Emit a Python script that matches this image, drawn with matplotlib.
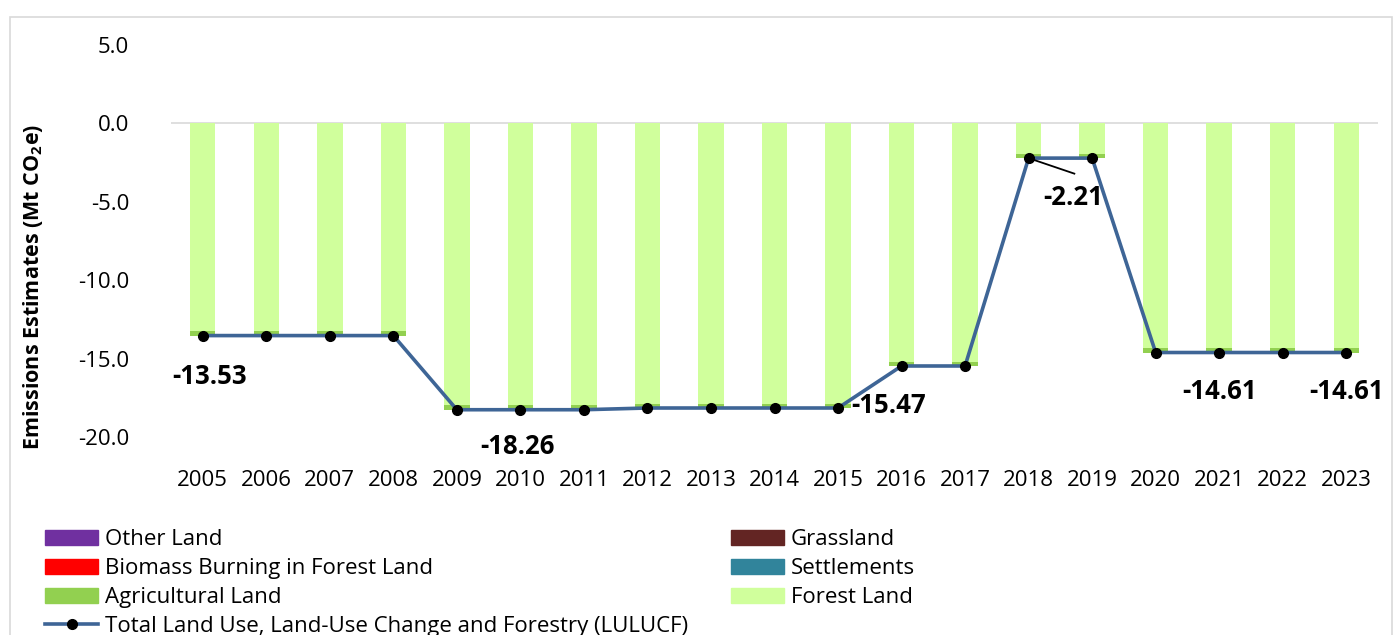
import matplotlib.pyplot as plt
import numpy as np
from matplotlib.patches import Patch, Rectangle
from matplotlib.lines import Line2D

plt.rcParams['font.family'] = ['Open Sans', 'DejaVu Sans']
plt.rcParams['mathtext.default'] = 'regular'

years = ['2005', '2006', '2007', '2008', '2009', '2010', '2011', '2012', '2013', '2014',
         '2015', '2016', '2017', '2018', '2019', '2020', '2021', '2022', '2023']
forest_land = [-13.25, -13.25, -13.25, -13.25, -17.98, -17.98, -17.98, -17.87, -17.87, -17.87,
               -17.87, -15.19, -15.19, -1.93, -1.93, -14.33, -14.33, -14.33, -14.33]
agricultural_land = [-0.28] * 19
total_lulucf = [-13.53, -13.53, -13.53, -13.53, -18.26, -18.26, -18.26, -18.15, -18.15, -18.15,
                -18.15, -15.47, -15.47, -2.21, -2.21, -14.61, -14.61, -14.61, -14.61]

c_other = '#7030a0'
c_biomass = '#ff0000'
c_agri = '#92d050'
c_grass = '#632523'
c_settle = '#31849b'
c_forest = '#d0ff9c'
c_line = '#3e6596'

fig = plt.figure(figsize=(13.95, 6.35), dpi=100)
ax = fig.add_axes([0.1226, 0.3118, 0.8652, 0.6172])

x = np.arange(len(years))
w = 0.4
ax.bar(x, forest_land, width=w, color=c_forest, zorder=2)
ax.bar(x, agricultural_land, width=w, bottom=forest_land, color=c_agri, zorder=2)
ax.plot(x, total_lulucf, color=c_line, linewidth=2.6, marker='o', markersize=7,
        markerfacecolor='black', markeredgecolor='black', zorder=4)
ax.axhline(0, color='#d9d9d9', linewidth=1.2, zorder=1)

ax.set_xlim(-0.5, len(years) - 0.5)
ax.set_ylim(-20, 5)
ax.set_yticks([5, 0, -5, -10, -15, -20])
ax.set_yticklabels(['5.0', '0.0', '-5.0', '-10.0', '-15.0', '-20.0'])
ax.set_xticks(x)
ax.set_xticklabels(years)
ax.tick_params(axis='both', length=0, labelsize=16, colors='black')
ax.tick_params(axis='x', pad=24)
ax.tick_params(axis='y', pad=30)
for s in ax.spines.values():
    s.set_visible(False)

# etykiety danych
lab_kw = dict(fontsize=18.5, fontweight='bold', ha='center', va='center', zorder=5)
ax.text(0.1, -16.15, '-13.53', **lab_kw)
ax.text(4.95, -20.6, '-18.26', **lab_kw)
ax.text(10.8, -18.0, '-15.47', **lab_kw)
ax.text(13.7, -4.7, '-2.21', **lab_kw)
ax.plot([13, 13.72], [-2.21, -3.2], color='black', linewidth=1.3, zorder=5)
ax.text(16.0, -17.1, '-14.61', **lab_kw)
ax.text(18.0, -17.1, '-14.61', **lab_kw)

fig.text(33 / 1395, 0.548, 'Emissions Estimates (Mt CO$_2$e)', rotation=90,
         fontsize=15.5, fontweight='bold', ha='center', va='center')

# ramka wykresu
fig.patches.append(Rectangle((10 / 1395, -0.1), 1382 / 1395, 1.1 - 17 / 635,
                             transform=fig.transFigure, fill=False,
                             edgecolor='#d9d9d9', linewidth=1.2))

leg_kw = dict(frameon=False, fontsize=16, handlelength=2.4, handleheight=0.65,
              labelspacing=0.36, handletextpad=0.3, borderaxespad=0, borderpad=0)
left_handles = [Patch(color=c_other), Patch(color=c_biomass), Patch(color=c_agri),
                Line2D([], [], color=c_line, linewidth=2.6, marker='o', markersize=7,
                       markerfacecolor='black', markeredgecolor='black')]
left_labels = ['Other Land', 'Biomass Burning in Forest Land', 'Agricultural Land',
               'Total Land Use, Land-Use Change and Forestry (LULUCF)']
right_handles = [Patch(color=c_grass), Patch(color=c_settle), Patch(color=c_forest)]
right_labels = ['Grassland', 'Settlements', 'Forest Land']

fig.legend(left_handles, left_labels, loc='upper left',
           bbox_to_anchor=(45 / 1395, 1 - 529 / 635), **leg_kw)
fig.legend(right_handles, right_labels, loc='upper left',
           bbox_to_anchor=(731 / 1395, 1 - 529 / 635), **leg_kw)

fig.savefig('out.png', dpi=100)
